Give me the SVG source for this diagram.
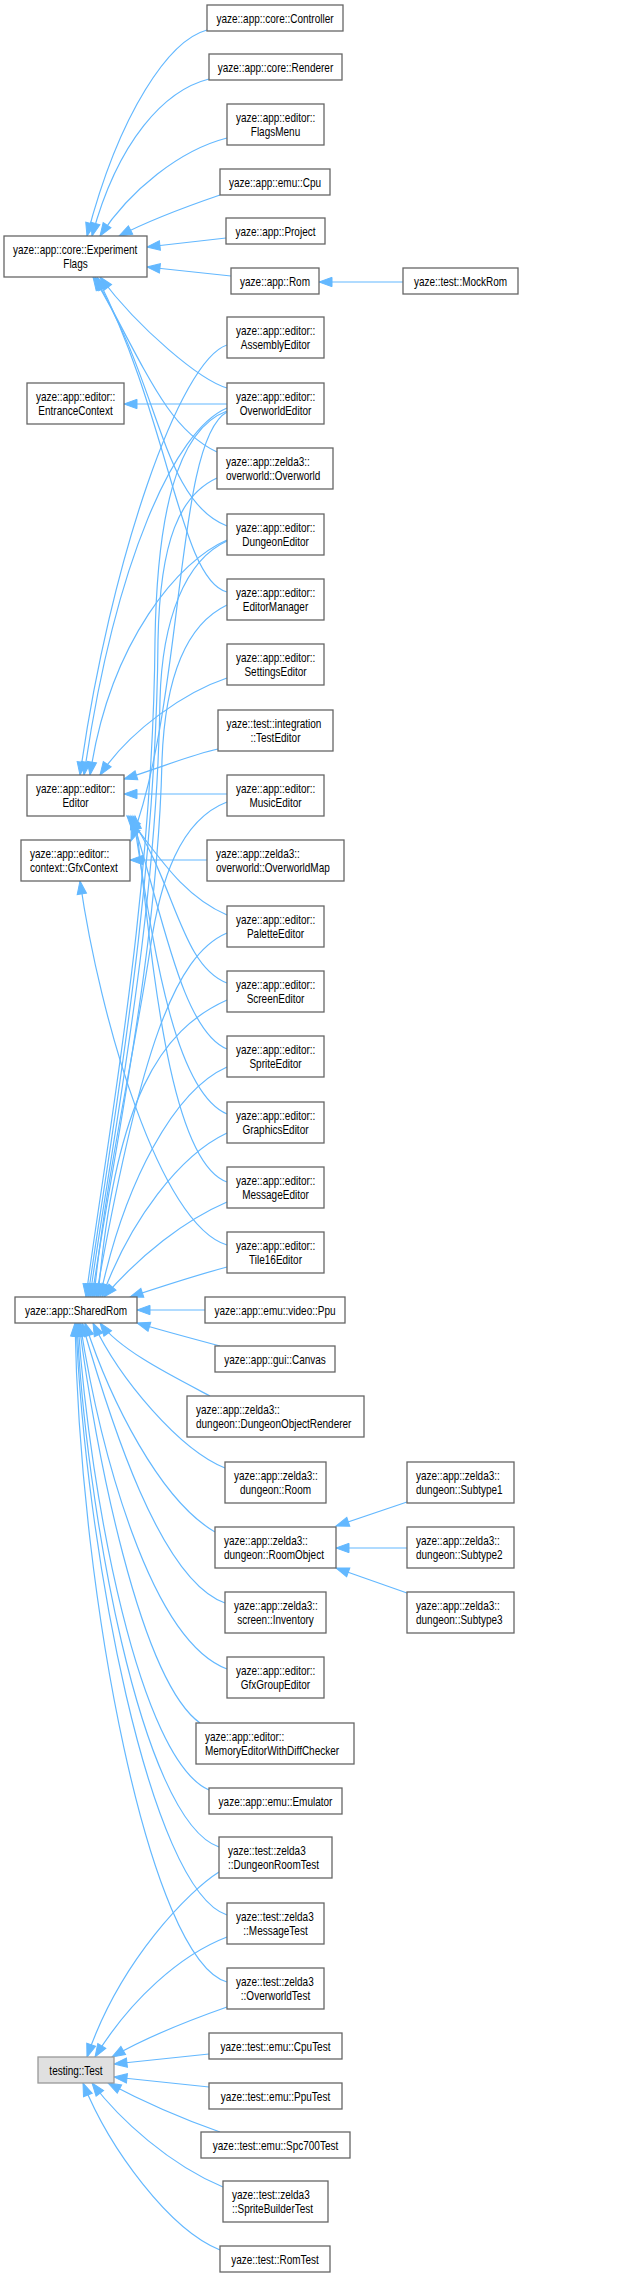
<svg xmlns="http://www.w3.org/2000/svg" width="640" height="2278" viewBox="0 0 640 2278">
<style>
.n rect{fill:#fff;stroke:#666;stroke-width:1.3}
.x rect{fill:#e0e0e0;stroke:#999;stroke-width:1.3}
.e path{fill:none;stroke:#63b8ff;stroke-width:1.2;marker-end:url(#a)}
text{font-family:"Liberation Sans",Arial,Helvetica,sans-serif;font-size:12px;fill:#000}
.m{text-anchor:middle}
</style>
<defs>
<marker id="a" markerUnits="userSpaceOnUse" markerWidth="14" markerHeight="10" refX="13" refY="4.7" orient="auto" overflow="visible"><path d="M0,0L13,4.7L0,9.4z" fill="#63b8ff" stroke="#63b8ff"/></marker>
</defs>
<rect width="640" height="2278" fill="#fff"/>
<g id="edges" class="e">
<path d="M207,30 C170,40 120,110 87,236"/>
<path d="M209,79 C165,90 118,140 92,236"/>
<path d="M227,138 C180,150 130,190 100,236"/>
<path d="M220,195 C185,207 150,220 119,236"/>
<path d="M226,238 L147,247"/>
<path d="M231,276 L147,267"/>
<path d="M403,282 L319,282"/>
<path d="M227,388 C200,380 140,330 100,277"/>
<path d="M217,452 C170,430 150,380 95,277"/>
<path d="M227,526 C160,500 160,380 93,277"/>
<path d="M227,592 C180,580 170,420 97,277"/>
<path d="M227,404 L124,404"/>
<path d="M227,345 C180,360 110,560 80,775"/>
<path d="M227,408 C175,430 115,560 84,775"/>
<path d="M227,540 C180,560 110,640 90,775"/>
<path d="M227,678 C185,692 130,730 100,775"/>
<path d="M218,749 C190,755 160,768 124,779"/>
<path d="M227,794 L124,794"/>
<path d="M227,915 C180,895 155,850 127,816"/>
<path d="M227,983 C180,965 175,880 129,816"/>
<path d="M227,1049 C180,1030 160,900 131,816"/>
<path d="M227,1114 C170,1090 150,920 133,816"/>
<path d="M227,1182 C165,1160 150,930 135,816"/>
<path d="M227,412 C175,440 185,700 131,841"/>
<path d="M207,860 L130,860"/>
<path d="M227,1245 C160,1225 100,1020 80,881"/>
<path d="M227,411 C175,430 157,520 155,640 C153,900 105,1150 86,1297"/>
<path d="M217,478 C180,495 160,540 158,640 C156,900 108,1150 88,1297"/>
<path d="M227,541 C185,560 162,620 160,700 C157,920 110,1150 90,1297"/>
<path d="M227,605 C185,625 165,680 162,760 C158,950 112,1160 92,1297"/>
<path d="M227,802 C180,820 160,880 150,950 C135,1050 105,1180 94,1297"/>
<path d="M227,933 C175,955 140,1050 96,1297"/>
<path d="M227,1000 C160,1030 115,1100 98,1297"/>
<path d="M227,1067 C175,1090 125,1180 100,1297"/>
<path d="M227,1133 C180,1155 130,1220 102,1297"/>
<path d="M227,1202 C185,1220 140,1255 104,1297"/>
<path d="M227,1267 C190,1277 160,1287 130,1297"/>
<path d="M205,1310 L137,1310"/>
<path d="M220,1346 C190,1338 160,1330 137,1323"/>
<path d="M210,1396 C170,1375 120,1350 100,1323"/>
<path d="M225,1468 C180,1450 120,1380 93,1323"/>
<path d="M215,1532 C160,1500 110,1400 85,1323"/>
<path d="M225,1603 C160,1580 110,1420 82,1323"/>
<path d="M227,1669 C150,1640 100,1450 80,1323"/>
<path d="M200,1723 C140,1680 95,1450 79,1323"/>
<path d="M209,1790 C140,1760 90,1500 78,1323"/>
<path d="M219,1847 C140,1820 85,1500 77,1323"/>
<path d="M227,1915 C150,1890 85,1550 76,1323"/>
<path d="M227,1982 C150,1960 80,1600 75,1323"/>
<path d="M407,1502 L336,1526"/>
<path d="M407,1548 L336,1548"/>
<path d="M407,1593 L336,1568"/>
<path d="M219,1872 C190,1890 120,1960 87,2057"/>
<path d="M227,1937 C180,1955 130,2000 95,2057"/>
<path d="M227,2007 C190,2020 150,2035 112,2057"/>
<path d="M209,2054 L114,2064"/>
<path d="M209,2087 L114,2077"/>
<path d="M220,2132 C180,2118 140,2100 108,2083"/>
<path d="M223,2187 C170,2165 120,2120 92,2083"/>
<path d="M220,2250 C170,2230 110,2150 83,2083"/>
</g>
<g id="n1" class="n"><rect x="207" y="5" width="136" height="26"/><text class="m" transform="matrix(.833 0 0 1 275 22.5)">yaze::app::core::Controller</text></g>
<g id="n2" class="n"><rect x="209" y="54" width="133" height="26"/><text class="m" transform="matrix(.833 0 0 1 275.5 71.5)">yaze::app::core::Renderer</text></g>
<g id="n3" class="n"><rect x="227" y="104" width="97" height="41"/><text transform="matrix(.833 0 0 1 236 121.5)">yaze::app::editor::</text><text class="m" transform="matrix(.833 0 0 1 275.5 136)">FlagsMenu</text></g>
<g id="n4" class="n"><rect x="220" y="169" width="110" height="26"/><text class="m" transform="matrix(.833 0 0 1 275 186.5)">yaze::app::emu::Cpu</text></g>
<g id="n5" class="n"><rect x="4" y="236" width="143" height="41"/><text transform="matrix(.833 0 0 1 13 253.5)">yaze::app::core::Experiment</text><text class="m" transform="matrix(.833 0 0 1 75.5 268)">Flags</text></g>
<g id="n6" class="n"><rect x="226" y="218" width="99" height="26"/><text class="m" transform="matrix(.833 0 0 1 275.5 235.5)">yaze::app::Project</text></g>
<g id="n7" class="n"><rect x="231" y="268" width="88" height="26"/><text class="m" transform="matrix(.833 0 0 1 275 285.5)">yaze::app::Rom</text></g>
<g id="n8" class="n"><rect x="403" y="268" width="115" height="26"/><text class="m" transform="matrix(.833 0 0 1 460.5 285.5)">yaze::test::MockRom</text></g>
<g id="n9" class="n"><rect x="227" y="317" width="97" height="41"/><text transform="matrix(.833 0 0 1 236 334.5)">yaze::app::editor::</text><text class="m" transform="matrix(.833 0 0 1 275.5 349)">AssemblyEditor</text></g>
<g id="n10" class="n"><rect x="27" y="383" width="97" height="41"/><text transform="matrix(.833 0 0 1 36 400.5)">yaze::app::editor::</text><text class="m" transform="matrix(.833 0 0 1 75.5 415)">EntranceContext</text></g>
<g id="n11" class="n"><rect x="227" y="383" width="97" height="41"/><text transform="matrix(.833 0 0 1 236 400.5)">yaze::app::editor::</text><text class="m" transform="matrix(.833 0 0 1 275.5 415)">OverworldEditor</text></g>
<g id="n12" class="n"><rect x="217" y="448" width="116" height="41"/><text transform="matrix(.833 0 0 1 226 465.5)">yaze::app::zelda3::</text><text transform="matrix(.833 0 0 1 226 480)">overworld::Overworld</text></g>
<g id="n13" class="n"><rect x="227" y="514" width="97" height="41"/><text transform="matrix(.833 0 0 1 236 531.5)">yaze::app::editor::</text><text class="m" transform="matrix(.833 0 0 1 275.5 546)">DungeonEditor</text></g>
<g id="n14" class="n"><rect x="227" y="579" width="97" height="41"/><text transform="matrix(.833 0 0 1 236 596.5)">yaze::app::editor::</text><text class="m" transform="matrix(.833 0 0 1 275.5 611)">EditorManager</text></g>
<g id="n15" class="n"><rect x="227" y="644" width="97" height="41"/><text transform="matrix(.833 0 0 1 236 661.5)">yaze::app::editor::</text><text class="m" transform="matrix(.833 0 0 1 275.5 676)">SettingsEditor</text></g>
<g id="n16" class="n"><rect x="218" y="710" width="115" height="41"/><text transform="matrix(.833 0 0 1 226.5 727.5)">yaze::test::integration</text><text class="m" transform="matrix(.833 0 0 1 275.5 742)">::TestEditor</text></g>
<g id="n17" class="n"><rect x="27" y="775" width="97" height="41"/><text transform="matrix(.833 0 0 1 36 792.5)">yaze::app::editor::</text><text class="m" transform="matrix(.833 0 0 1 75.5 807)">Editor</text></g>
<g id="n18" class="n"><rect x="227" y="775" width="97" height="41"/><text transform="matrix(.833 0 0 1 236 792.5)">yaze::app::editor::</text><text class="m" transform="matrix(.833 0 0 1 275.5 807)">MusicEditor</text></g>
<g id="n19" class="n"><rect x="21" y="840" width="109" height="41"/><text transform="matrix(.833 0 0 1 30 857.5)">yaze::app::editor::</text><text transform="matrix(.833 0 0 1 30 872)">context::GfxContext</text></g>
<g id="n20" class="n"><rect x="207" y="840" width="137" height="41"/><text transform="matrix(.833 0 0 1 216 857.5)">yaze::app::zelda3::</text><text transform="matrix(.833 0 0 1 216 872)">overworld::OverworldMap</text></g>
<g id="n21" class="n"><rect x="227" y="906" width="97" height="41"/><text transform="matrix(.833 0 0 1 236 923.5)">yaze::app::editor::</text><text class="m" transform="matrix(.833 0 0 1 275.5 938)">PaletteEditor</text></g>
<g id="n22" class="n"><rect x="227" y="971" width="97" height="41"/><text transform="matrix(.833 0 0 1 236 988.5)">yaze::app::editor::</text><text class="m" transform="matrix(.833 0 0 1 275.5 1003)">ScreenEditor</text></g>
<g id="n23" class="n"><rect x="227" y="1036" width="97" height="41"/><text transform="matrix(.833 0 0 1 236 1053.5)">yaze::app::editor::</text><text class="m" transform="matrix(.833 0 0 1 275.5 1068)">SpriteEditor</text></g>
<g id="n24" class="n"><rect x="227" y="1102" width="97" height="41"/><text transform="matrix(.833 0 0 1 236 1119.5)">yaze::app::editor::</text><text class="m" transform="matrix(.833 0 0 1 275.5 1134)">GraphicsEditor</text></g>
<g id="n25" class="n"><rect x="227" y="1167" width="97" height="41"/><text transform="matrix(.833 0 0 1 236 1184.5)">yaze::app::editor::</text><text class="m" transform="matrix(.833 0 0 1 275.5 1199)">MessageEditor</text></g>
<g id="n26" class="n"><rect x="227" y="1232" width="97" height="41"/><text transform="matrix(.833 0 0 1 236 1249.5)">yaze::app::editor::</text><text class="m" transform="matrix(.833 0 0 1 275.5 1264)">Tile16Editor</text></g>
<g id="n27" class="n"><rect x="15" y="1297" width="122" height="26"/><text class="m" transform="matrix(.833 0 0 1 76 1314.5)">yaze::app::SharedRom</text></g>
<g id="n28" class="n"><rect x="205" y="1297" width="140" height="26"/><text class="m" transform="matrix(.833 0 0 1 275 1314.5)">yaze::app::emu::video::Ppu</text></g>
<g id="n29" class="n"><rect x="215" y="1346" width="120" height="26"/><text class="m" transform="matrix(.833 0 0 1 275 1363.5)">yaze::app::gui::Canvas</text></g>
<g id="n30" class="n"><rect x="187" y="1396" width="177" height="41"/><text transform="matrix(.833 0 0 1 196 1413.5)">yaze::app::zelda3::</text><text transform="matrix(.833 0 0 1 196 1428)">dungeon::DungeonObjectRenderer</text></g>
<g id="n31" class="n"><rect x="225" y="1462" width="101" height="41"/><text transform="matrix(.833 0 0 1 234 1479.5)">yaze::app::zelda3::</text><text class="m" transform="matrix(.833 0 0 1 275.5 1494)">dungeon::Room</text></g>
<g id="n32" class="n"><rect x="407" y="1462" width="107" height="41"/><text transform="matrix(.833 0 0 1 416 1479.5)">yaze::app::zelda3::</text><text transform="matrix(.833 0 0 1 416 1494)">dungeon::Subtype1</text></g>
<g id="n33" class="n"><rect x="215" y="1527" width="121" height="41"/><text transform="matrix(.833 0 0 1 224 1544.5)">yaze::app::zelda3::</text><text transform="matrix(.833 0 0 1 224 1559)">dungeon::RoomObject</text></g>
<g id="n34" class="n"><rect x="407" y="1527" width="107" height="41"/><text transform="matrix(.833 0 0 1 416 1544.5)">yaze::app::zelda3::</text><text transform="matrix(.833 0 0 1 416 1559)">dungeon::Subtype2</text></g>
<g id="n35" class="n"><rect x="225" y="1592" width="101" height="41"/><text transform="matrix(.833 0 0 1 234 1609.5)">yaze::app::zelda3::</text><text class="m" transform="matrix(.833 0 0 1 275.5 1624)">screen::Inventory</text></g>
<g id="n36" class="n"><rect x="407" y="1592" width="107" height="41"/><text transform="matrix(.833 0 0 1 416 1609.5)">yaze::app::zelda3::</text><text transform="matrix(.833 0 0 1 416 1624)">dungeon::Subtype3</text></g>
<g id="n37" class="n"><rect x="227" y="1657" width="97" height="41"/><text transform="matrix(.833 0 0 1 236 1674.5)">yaze::app::editor::</text><text class="m" transform="matrix(.833 0 0 1 275.5 1689)">GfxGroupEditor</text></g>
<g id="n38" class="n"><rect x="196" y="1723" width="158" height="41"/><text transform="matrix(.833 0 0 1 205 1740.5)">yaze::app::editor::</text><text transform="matrix(.833 0 0 1 205 1755)">MemoryEditorWithDiffChecker</text></g>
<g id="n39" class="n"><rect x="209" y="1788" width="133" height="26"/><text class="m" transform="matrix(.833 0 0 1 275.5 1805.5)">yaze::app::emu::Emulator</text></g>
<g id="n40" class="n"><rect x="219" y="1837" width="113" height="41"/><text transform="matrix(.833 0 0 1 228 1854.5)">yaze::test::zelda3</text><text transform="matrix(.833 0 0 1 228 1869)">::DungeonRoomTest</text></g>
<g id="n41" class="n"><rect x="227" y="1903" width="97" height="41"/><text transform="matrix(.833 0 0 1 236 1920.5)">yaze::test::zelda3</text><text class="m" transform="matrix(.833 0 0 1 275.5 1935)">::MessageTest</text></g>
<g id="n42" class="n"><rect x="227" y="1968" width="97" height="41"/><text transform="matrix(.833 0 0 1 236 1985.5)">yaze::test::zelda3</text><text class="m" transform="matrix(.833 0 0 1 275.5 2000)">::OverworldTest</text></g>
<g id="n43" class="n"><rect x="209" y="2033" width="133" height="26"/><text class="m" transform="matrix(.833 0 0 1 275.5 2050.5)">yaze::test::emu::CpuTest</text></g>
<g id="n44" class="x"><rect x="38" y="2057" width="76" height="26"/><text class="m" transform="matrix(.833 0 0 1 76 2074.5)">testing::Test</text></g>
<g id="n45" class="n"><rect x="209" y="2083" width="133" height="26"/><text class="m" transform="matrix(.833 0 0 1 275.5 2100.5)">yaze::test::emu::PpuTest</text></g>
<g id="n46" class="n"><rect x="201" y="2132" width="149" height="26"/><text class="m" transform="matrix(.833 0 0 1 275.5 2149.5)">yaze::test::emu::Spc700Test</text></g>
<g id="n47" class="n"><rect x="223" y="2181" width="105" height="41"/><text transform="matrix(.833 0 0 1 232 2198.5)">yaze::test::zelda3</text><text transform="matrix(.833 0 0 1 232 2213)">::SpriteBuilderTest</text></g>
<g id="n48" class="n"><rect x="220" y="2246" width="110" height="26"/><text class="m" transform="matrix(.833 0 0 1 275 2263.5)">yaze::test::RomTest</text></g>
</svg>
